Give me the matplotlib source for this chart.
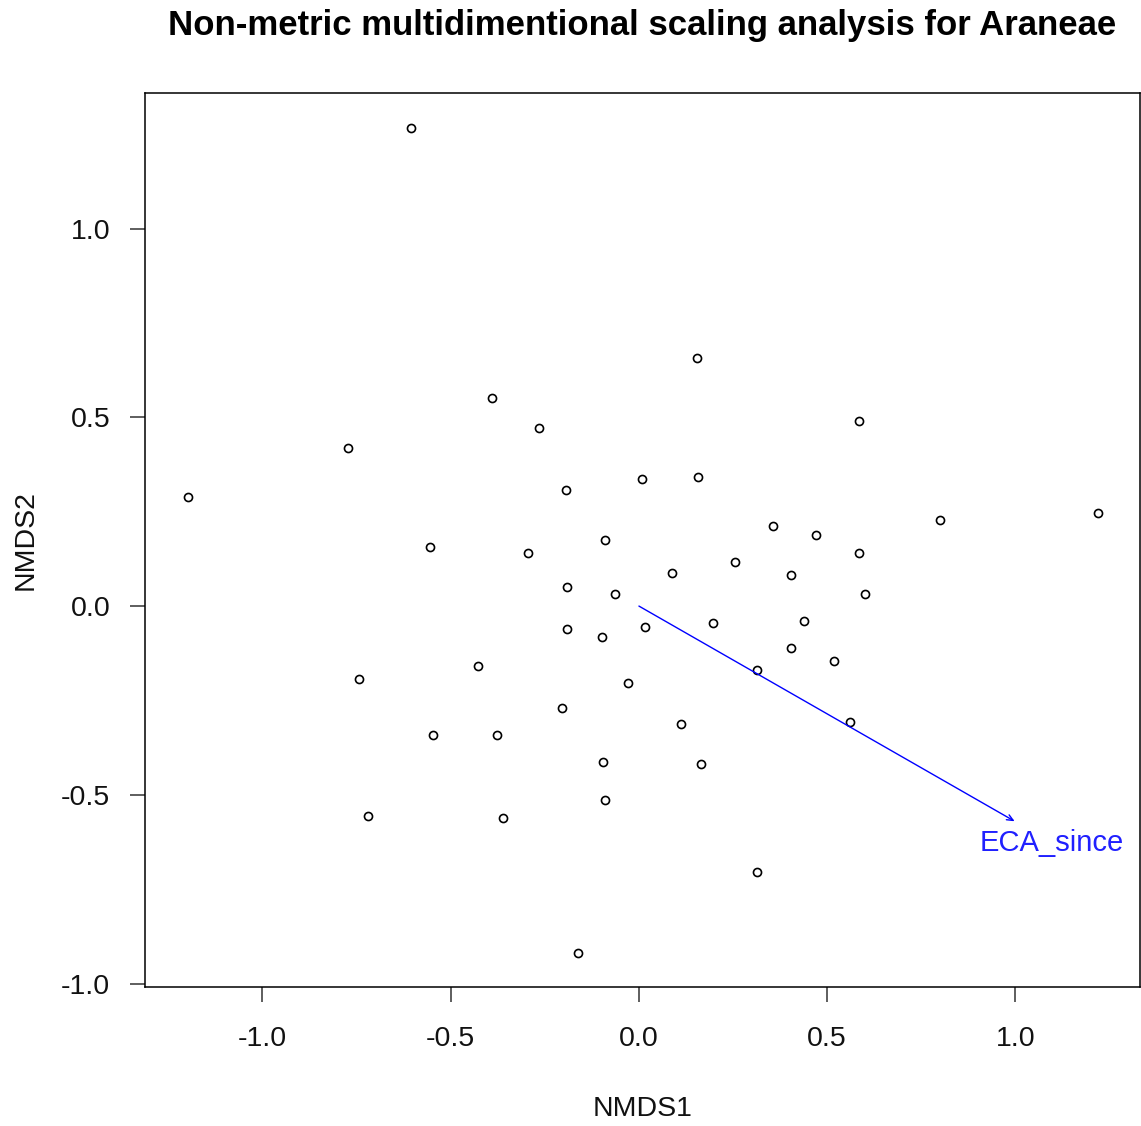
import matplotlib
matplotlib.use("Agg")
import matplotlib.pyplot as plt

# site scores from the NMDS ordination
nmds1 = [-0.606, 0.154, -0.390, -0.266, 0.584, -0.773, -1.198, -0.194, 0.008, 0.157,
         0.799, 1.219, 0.356, 0.470, -0.555, -0.295, -0.090, 0.584, 0.255, 0.088,
         0.404, -0.191, -0.064, 0.600, 0.197, 0.438, -0.191, 0.016, -0.098, 0.404,
         0.518, -0.428, 0.313, -0.744, -0.029, -0.205, 0.112, 0.560, -0.547, -0.377,
         -0.096, 0.165, -0.090, -0.720, -0.361, 0.313, -0.162]
nmds2 = [1.266, 0.657, 0.551, 0.472, 0.490, 0.419, 0.289, 0.307, 0.336, 0.342,
         0.228, 0.246, 0.212, 0.188, 0.156, 0.140, 0.175, 0.140, 0.117, 0.087,
         0.082, 0.050, 0.032, 0.032, -0.045, -0.040, -0.061, -0.056, -0.082, -0.111,
         -0.146, -0.159, -0.170, -0.193, -0.204, -0.270, -0.313, -0.307, -0.342, -0.342,
         -0.413, -0.419, -0.514, -0.556, -0.562, -0.705, -0.919]

# fitted environmental vector
env_name = "ECA_since"
env_vec = (0.998, -0.57)
env_label = (1.097, -0.628)

ticks = [-1.0, -0.5, 0.0, 0.5, 1.0]

plt.rcParams["font.family"] = ["Liberation Sans", "DejaVu Sans"]

fig = plt.figure(figsize=(11.41, 11.26), dpi=100)
W, H = 1141, 1126
ax = fig.add_axes([145 / W, 1 - 987 / H, (1140 - 145) / W, (987 - 93) / H])

ax.plot(nmds1, nmds2, linestyle="none", marker="o", markersize=5.8,
        markerfacecolor="none", markeredgecolor="black", markeredgewidth=1.2)

ax.annotate("", xy=env_vec, xytext=(0, 0),
            arrowprops=dict(arrowstyle="->,head_length=0.45,head_width=0.2",
                            color="blue", lw=1.0, shrinkA=0, shrinkB=0))
ax.text(env_label[0], env_label[1], env_name, color="#2020ff", fontsize=21,
        ha="center", va="center")

ax.set_xlim(-1.312, 1.331)
ax.set_ylim(-1.009, 1.359)
ax.set_xticks(ticks)
ax.set_yticks(ticks)
ax.set_xticklabels([f"{t:.1f}" for t in ticks])
ax.set_yticklabels([f"{t:.1f}" for t in ticks])
ax.tick_params(axis="both", length=11, width=1.1, labelsize=20.5, color="#333333",
               labelcolor="#111111")
ax.tick_params(axis="x", pad=17)
ax.tick_params(axis="y", pad=14)
for s in ax.spines.values():
    s.set_linewidth(1.1)

ax.set_xlabel("NMDS1", fontsize=20.5, labelpad=32, color="#111111")
ax.set_ylabel("NMDS2", fontsize=20.5, labelpad=16, color="#111111")

fig.text(642 / W, 1 - 25 / H, "Non-metric multidimentional scaling analysis for Araneae",
         ha="center", va="center", fontsize=25, fontweight="bold")

fig.savefig("out.png", dpi=100)
